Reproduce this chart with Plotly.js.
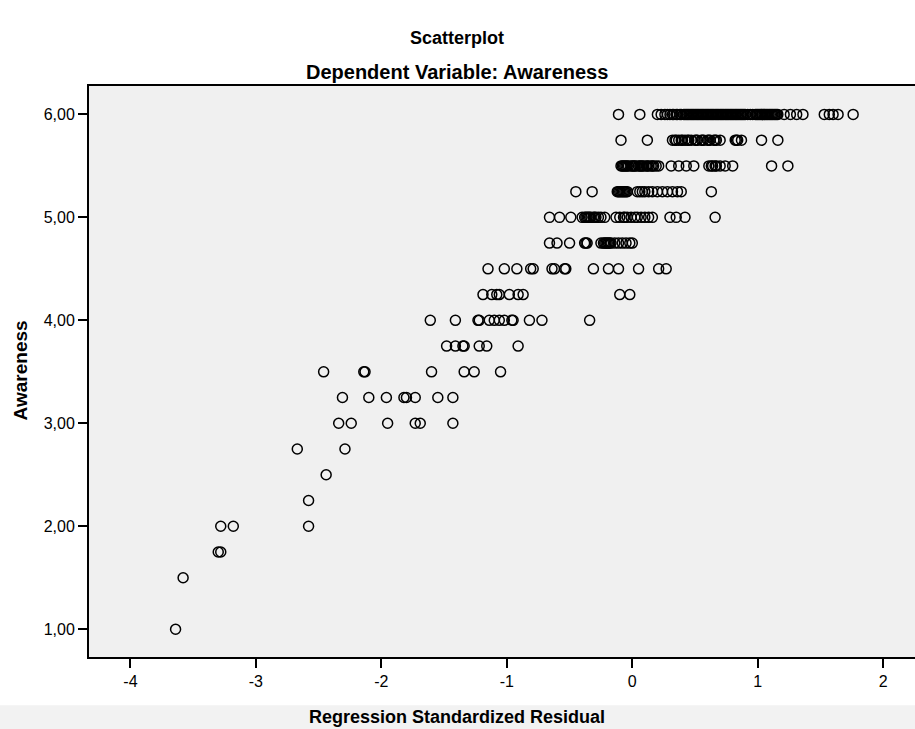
<!DOCTYPE html>
<html>
<head>
<meta charset="utf-8">
<script src="https://cdn.plot.ly/plotly-3.0.1.min.js"></script>
<style>html,body{margin:0;padding:0;background:#fff;}#chart{width:915px;height:729px;}</style>
</head>
<body>
<div id="chart"></div>
<script>
// Regression standardized residuals, grouped by Awareness level
const awarenessLevels = [6.00, 5.75, 5.50, 5.25, 5.00, 4.75, 4.50, 4.25, 4.00, 3.75, 3.50, 3.25, 3.00, 2.75, 2.50, 2.25, 2.00, 1.75, 1.50, 1.00];

const resid_600 = [-0.11, 0.06, 0.20, 0.23, 0.26, 0.28, 0.30, 0.32, 0.33, 0.35, 0.36, 0.38, 0.39,
  0.41, 0.42, 0.43, 0.44, 0.45, 0.46, 0.47, 0.48, 0.49, 0.50, 0.51, 0.52, 0.53, 0.54, 0.55, 0.56,
  0.57, 0.58, 0.59, 0.60, 0.61, 0.62, 0.63, 0.64, 0.65, 0.66, 0.67, 0.68, 0.69, 0.70, 0.71, 0.72,
  0.73, 0.74, 0.75, 0.76, 0.77, 0.78, 0.79, 0.80, 0.81, 0.82, 0.83, 0.84, 0.85, 0.86, 0.87, 0.88,
  0.89, 0.90, 0.92, 0.94, 0.96, 0.98, 0.99, 1.00, 1.01, 1.02, 1.03, 1.04, 1.05, 1.06, 1.07, 1.08,
  1.09, 1.10, 1.11, 1.12, 1.13, 1.14, 1.15, 1.16, 1.21, 1.26, 1.31, 1.36, 1.53, 1.57, 1.60, 1.64, 1.76];
const resid_575 = [-0.09, 0.12, 0.32, 0.34, 0.35, 0.37, 0.39, 0.40, 0.42, 0.44, 0.45, 0.47, 0.50, 0.51,
  0.52, 0.55, 0.56, 0.57, 0.60, 0.61, 0.62, 0.65, 0.66, 0.67, 0.70, 0.82, 0.83, 0.84, 0.87, 1.03, 1.16];
const resid_550 = [-0.09, -0.08, -0.07, -0.06, -0.05, -0.04, -0.03, -0.01, 0.00, 0.01, 0.02, 0.03, 0.05, 0.06,
  0.07, 0.08, 0.09, 0.11, 0.12, 0.13, 0.15, 0.16, 0.17, 0.19, 0.21, 0.31, 0.37, 0.43, 0.49,
  0.61, 0.63, 0.64, 0.66, 0.67, 0.70, 0.74, 0.80, 1.11, 1.24];
const resid_525 = [-0.45, -0.32, -0.12, -0.11, -0.10, -0.09, -0.08, -0.07, -0.06, -0.05, -0.04, 0.04, 0.06,
  0.08, 0.10, 0.13, 0.16, 0.20, 0.24, 0.28, 0.32, 0.36, 0.39, 0.63];
const resid_500 = [-0.66, -0.58, -0.49, -0.40, -0.38, -0.37, -0.36, -0.35, -0.34, -0.33, -0.31, -0.30,
  -0.29, -0.27, -0.25, -0.22, -0.13, -0.10, -0.07, -0.06, -0.04, -0.01, 0.02, 0.04, 0.07, 0.10,
  0.13, 0.16, 0.30, 0.35, 0.42, 0.66];
const resid_475 = [-0.66, -0.60, -0.50, -0.38, -0.37, -0.36, -0.25, -0.23, -0.22, -0.21, -0.20, -0.19,
  -0.18, -0.17, -0.14, -0.11, -0.08, -0.05, -0.02, 0.00];
const resid_450 = [-1.15, -1.02, -0.92, -0.81, -0.79, -0.64, -0.62, -0.54, -0.53, -0.31, -0.19, -0.11, 0.05, 0.21, 0.27];
const resid_425 = [-1.19, -1.12, -1.08, -1.06, -0.98, -0.91, -0.87, -0.10, -0.02];
const resid_400 = [-1.61, -1.41, -1.23, -1.22, -1.14, -1.10, -1.06, -1.02, -0.96, -0.95, -0.82, -0.72, -0.34];
const resid_375 = [-1.48, -1.41, -1.35, -1.34, -1.22, -1.16, -0.91];
const resid_350 = [-2.46, -2.14, -2.13, -1.60, -1.34, -1.26, -1.05];
const resid_325 = [-2.31, -2.10, -1.96, -1.82, -1.80, -1.73, -1.55, -1.43];
const resid_300 = [-2.34, -2.24, -1.95, -1.73, -1.69, -1.43];
const resid_275 = [-2.67, -2.29];
const resid_250 = [-2.44];
const resid_225 = [-2.58];
const resid_200 = [-3.28, -3.18, -2.58];
const resid_175 = [-3.30, -3.28];
const resid_150 = [-3.58];
const resid_100 = [-3.64];

const residGroups = [resid_600, resid_575, resid_550, resid_525, resid_500, resid_475, resid_450,
  resid_425, resid_400, resid_375, resid_350, resid_325, resid_300, resid_275, resid_250, resid_225,
  resid_200, resid_175, resid_150, resid_100];

const xTickVals = [-4, -3, -2, -1, 0, 1, 2];
const xTickText = ['-4', '-3', '-2', '-1', '0', '1', '2'];
const yTickVals = [1, 2, 3, 4, 5, 6];
const yTickText = ['1,00', '2,00', '3,00', '4,00', '5,00', '6,00'];

const xs = [], ys = [];
residGroups.forEach((g, i) => g.forEach(v => { xs.push(v); ys.push(awarenessLevels[i]); }));

const FONT = 'Liberation Sans, Arial, sans-serif';

const trace = {
  x: xs, y: ys, type: 'scatter', mode: 'markers',
  marker: {symbol: 'circle-open', size: 10, color: '#000', line: {width: 1.5, color: '#000'}},
  hoverinfo: 'x+y'
};

const layout = {
  width: 915, height: 729,
  margin: {l: 89, r: 0, t: 86, b: 72, pad: 0},
  paper_bgcolor: '#ffffff',
  plot_bgcolor: '#f0f0f0',
  showlegend: false,
  font: {family: FONT, color: '#000000', size: 16},
  xaxis: {
    range: [-4.33, 2.253], tickvals: xTickVals, ticktext: xTickText,
    showgrid: false, zeroline: false, showline: true, linecolor: '#000', linewidth: 2,
    mirror: true, ticks: 'outside', ticklen: 9, tickwidth: 2, tickcolor: '#000',
    tickfont: {family: FONT, size: 16, color: '#000000'}
  },
  yaxis: {
    range: [0.73, 6.276], tickvals: yTickVals, ticktext: yTickText,
    showgrid: false, zeroline: false, showline: true, linecolor: '#000', linewidth: 2,
    ticks: 'outside', ticklen: 9, tickwidth: 2, tickcolor: '#000',
    tickfont: {family: FONT, size: 16, color: '#000000'}
  },
  shapes: [{
    type: 'rect', xref: 'paper', yref: 'paper', layer: 'below',
    x0: -0.2, x1: 1.1, y0: -0.0846, y1: -0.2,
    fillcolor: '#f2f2f2', line: {width: 0}
  }],
  annotations: [
    {text: '<b>Scatterplot</b>', xref: 'paper', yref: 'paper', x: 0.446, y: 1.084,
     xanchor: 'center', yanchor: 'middle', showarrow: false, font: {family: FONT, size: 18, color: '#000'}},
    {text: '<b>Dependent Variable: Awareness</b>', xref: 'paper', yref: 'paper', x: 0.446, y: 1.0245,
     xanchor: 'center', yanchor: 'middle', showarrow: false, font: {family: FONT, size: 20, color: '#000'}},
    {text: '<b>Regression Standardized Residual</b>', xref: 'paper', yref: 'paper', x: 0.446, y: -0.1057,
     xanchor: 'center', yanchor: 'middle', showarrow: false, font: {family: FONT, size: 18, color: '#000'}},
    {text: '<b>Awareness</b>', xref: 'paper', yref: 'paper', x: -0.0835, y: 0.502, textangle: -90,
     xanchor: 'center', yanchor: 'middle', showarrow: false, font: {family: FONT, size: 19, color: '#000'}}
  ]
};

Plotly.newPlot('chart', [trace], layout, {displayModeBar: false, staticPlot: true});
</script>
</body>
</html>
